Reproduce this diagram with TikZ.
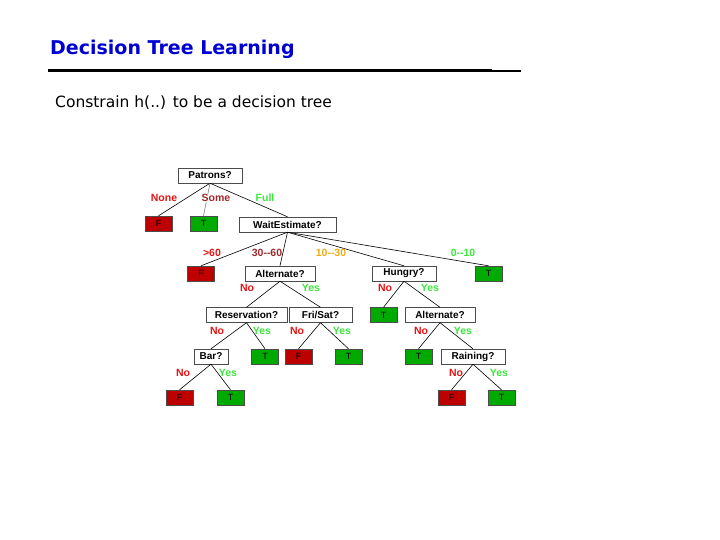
\documentclass[tikz,border=0pt]{standalone}
\usepackage{fontspec}
\setmainfont{DejaVu Sans}
\newfontfamily\treefont{Liberation Sans}
\begin{document}
\begin{tikzpicture}[x=1pt,y=-1pt,
 q/.style={draw=black!70,fill=white,minimum width=#1,minimum height=15pt,inner sep=0pt,font=\treefont\bfseries\fontsize{10}{11}\selectfont},
 lf/.style={draw=black!70,fill=#1,minimum width=27pt,minimum height=15pt,inner sep=0pt,font=\treefont\fontsize{9}{10}\selectfont},
 lb/.style={font=\treefont\bfseries\fontsize{10.5}{11}\selectfont,text=#1},
 e/.style={black,line width=0.6pt}]
\definecolor{fr}{RGB}{190,0,0}\definecolor{tg}{RGB}{0,170,0}
\definecolor{lr}{RGB}{230,20,20}\definecolor{lg}{RGB}{60,230,60}
\definecolor{dr}{RGB}{160,40,40}\definecolor{lo}{RGB}{240,170,20}
\useasboundingbox (0,0) rectangle (720,540);
\node[anchor=base west,inner sep=0pt,font=\bfseries\fontsize{19}{21}\selectfont,text={rgb,255:red,0;green,0;blue,210}] (title) at (50,55) {Decision Tree Learning};
\draw[line width=3pt] (48,71) coordinate (r1) -- (492,71) coordinate (r2);
\draw[line width=1.5pt] (r2) -- (521,71) coordinate (r3);
\node[anchor=base west,inner sep=0pt,font=\fontsize{15.5}{17}\selectfont] (sub) at (55,108) {Constrain h(..) to be a decision tree};
% nodes
\node[q=64pt] (pat) at (210,175.5) {Patrons?};
\node[lf=fr] (f1) at (158.5,223.5) {F};
\node[lf=tg] (t1) at (203.5,223.5) {T};
\node[q=97pt] (wait) at (287.5,224.5) {WaitEstimate?};
\node[lf=fr] (f2) at (201,273.5) {F};
\node[q=70pt] (alt1) at (280,273.5) {Alternate?};
\node[q=64pt] (hun) at (404,273.5) {Hungry?};
\node[lf=tg] (t2) at (488.5,273.5) {T};
\node[q=81pt] (res) at (246.5,315) {Reservation?};
\node[q=63pt] (fri) at (320.5,315) {Fri/Sat?};
\node[lf=tg] (t3) at (383.5,315) {T};
\node[q=70pt] (alt2) at (440,315) {Alternate?};
\node[q=34pt] (bar) at (211,356.5) {Bar?};
\node[lf=tg] (t4) at (265,356.5) {T};
\node[lf=fr] (f3) at (298.5,356.5) {F};
\node[lf=tg] (t5) at (348.5,356.5) {T};
\node[lf=tg] (t6) at (418.5,356.5) {T};
\node[q=64pt] (rain) at (473,356.5) {Raining?};
\node[lf=fr] (f4) at (179.5,397.5) {F};
\node[lf=tg] (t7) at (230.5,397.5) {T};
\node[lf=fr] (f5) at (451.5,397.5) {F};
\node[lf=tg] (t8) at (501.5,397.5) {T};
% edges
\draw[e] (pat.south) -- (f1.north);
\draw[black!50,line width=0.6pt] (pat.south) -- (t1.north);
\draw[e] (pat.south) -- (wait.north);
\draw[e] (wait.south) -- (f2.north);
\draw[e] (wait.south) -- (alt1.north);
\draw[e] (wait.south) -- (hun.north);
\draw[e] (wait.south) -- (t2.north);
\draw[e] (alt1.south) -- (res.north);
\draw[e] (alt1.south) -- (fri.north);
\draw[e] (hun.south) -- (t3.north);
\draw[e] (hun.south) -- (alt2.north);
\draw[e] (res.south) -- (bar.north);
\draw[e] (res.south) -- (t4.north);
\draw[e] (fri.south) -- (f3.north);
\draw[e] (fri.south) -- (t5.north);
\draw[e] (alt2.south) -- (t6.north);
\draw[e] (alt2.south) -- (rain.north);
\draw[e] (bar.south) -- (f4.north);
\draw[e] (bar.south) -- (t7.north);
\draw[e] (rain.south) -- (f5.north);
\draw[e] (rain.south) -- (t8.north);
% labels
\node[lb=lr] (l1) at (164,198) {None};
\node[lb=dr,fill=white,inner sep=0.5pt] (l2) at (216,198) {Some};
\node[lb=lg] (l3) at (265,198) {Full};
\node[lb=lr] (l4) at (212,253) {>60};
\node[lb=dr] (l5) at (267,253) {30--60};
\node[lb=lo] (l6) at (331,253) {10--30};
\node[lb=lg] (l7) at (463,253) {0--10};
\node[lb=lr] (l8) at (247,288) {No};
\node[lb=lg] (l9) at (311,288) {Yes};
\node[lb=lr] (l10) at (385,288) {No};
\node[lb=lg] (l11) at (430,288) {Yes};
\node[lb=lr] (l12) at (217,331) {No};
\node[lb=lg] (l13) at (262,331) {Yes};
\node[lb=lr] (l14) at (297,331) {No};
\node[lb=lg] (l15) at (342,331) {Yes};
\node[lb=lr] (l16) at (421,331) {No};
\node[lb=lg] (l17) at (463,331) {Yes};
\node[lb=lr] (l18) at (183,373) {No};
\node[lb=lg] (l19) at (228,373) {Yes};
\node[lb=lr] (l20) at (456,373) {No};
\node[lb=lg] (l21) at (499,373) {Yes};
\end{tikzpicture}
\end{document}
